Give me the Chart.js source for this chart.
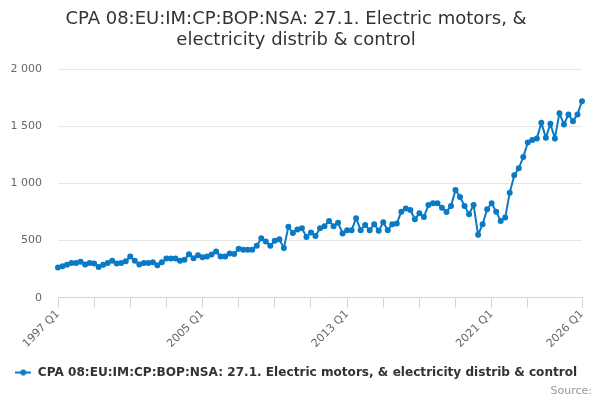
<!DOCTYPE html>
<html>
<head>
<meta charset="utf-8">
<script src="https://cdn.jsdelivr.net/npm/chart.js@4"></script>
<style>
html,body{margin:0;padding:0;background:#fff;}
#wrap{width:600px;height:400px;}
</style>
</head>
<body>
<div id="wrap"><canvas id="c" width="600" height="400"></canvas></div>
<script>
const titleLines = ["CPA 08:EU:IM:CP:BOP:NSA: 27.1. Electric motors, &", "electricity distrib & control"];
const seriesName = "CPA 08:EU:IM:CP:BOP:NSA: 27.1. Electric motors, & electricity distrib & control";
const startYear = 1997;
const endYear = 2026;
const shownLabels = ["1997 Q1", "2005 Q1", "2013 Q1", "2021 Q1", "2026 Q1"];
const yTicks = [0, 500, 1000, 1500, 2000];
const values = [
  265, 276, 288, 303, 303, 314, 291, 303, 300, 268,
  288, 303, 323, 300, 303, 320, 361, 323, 291, 303,
  303, 311, 285, 311, 343, 343, 343, 323, 332, 381,
  346, 372, 355, 361, 378, 404, 361, 361, 388, 383,
  428,
  419, 419, 419, 454, 521, 492, 454, 498, 512, 434,
  620, 567, 596, 608, 532, 570, 541, 608, 626, 672,
  626, 655, 562, 591, 591, 696, 591, 637, 591, 643,
  585, 661, 591, 643, 649, 753, 780, 768, 687, 738,
  707, 811,
  827, 827, 788, 751, 803, 943, 882, 803, 731, 812,
  550, 643, 774, 827, 753, 672, 701, 919, 1071, 1132,
  1231, 1359, 1379, 1394, 1530, 1399, 1522, 1394, 1615, 1516,
  1604, 1545, 1604, 1720
];
const categories = [];
for (let y = startYear; y <= endYear; y++) {
  for (let q = 1; q <= 4; q++) {
    if (categories.length < values.length) categories.push(y + " Q" + q);
  }
}
const lastIdx = categories.length - 1;

const lineColor = "#0a7ac4";
const marker = document.createElement("canvas");
marker.width = 16; marker.height = 8;
(function(){
  const g = marker.getContext("2d");
  g.strokeStyle = lineColor; g.lineWidth = 2;
  g.beginPath(); g.moveTo(0, 4); g.lineTo(16, 4); g.stroke();
  g.fillStyle = lineColor;
  g.beginPath(); g.arc(8, 4, 3, 0, Math.PI * 2); g.fill();
})();

const fmt = v => String(v).replace(/\B(?=(\d{3})+(?!\d))/g, " ");

new Chart(document.getElementById("c"), {
  type: "line",
  data: {
    labels: categories,
    datasets: [{
      label: seriesName,
      data: values,
      borderColor: lineColor,
      backgroundColor: lineColor,
      borderWidth: 2,
      pointRadius: 2,
      pointHoverRadius: 3,
      tension: 0
    }]
  },
  options: {
    responsive: false,
    animation: false,
    devicePixelRatio: 1,
    layout: { padding: { left: 0, right: 8, top: 4, bottom: 6 } },
    plugins: {
      title: {
        display: true,
        text: titleLines,
        color: "#333333",
        font: { family: "DejaVu Sans", size: 18, weight: "normal", lineHeight: 1.17 },
        padding: { top: 5, bottom: 18 }
      },
      subtitle: {
        display: true,
        position: "bottom",
        align: "end",
        text: "Source:",
        color: "#999999",
        font: { family: "DejaVu Sans", size: 11, lineHeight: 0.5 },
        padding: { top: 0, bottom: 0 }
      },
      legend: {
        position: "bottom",
        labels: {
          usePointStyle: true,
          pointStyleWidth: 17,
          color: "#333333",
          font: { family: "DejaVu Sans", size: 12.1, weight: "bold" },
          padding: 2,
          generateLabels: (chart) => Chart.defaults.plugins.legend.labels.generateLabels(chart).map(l => Object.assign(l, { pointStyle: marker }))
        }
      },
      tooltip: { enabled: false }
    },
    scales: {
      x: {
        type: "category",
        offset: false,
        border: { display: true, color: "#ccd6eb", width: 1 },
        grid: {
          display: true,
          drawOnChartArea: false,
          drawTicks: true,
          tickLength: 10,
          tickColor: (ctx) => ((ctx.index % 8 === 0 && ctx.index <= 104) || ctx.index === lastIdx) ? "#ccd6eb" : "rgba(0,0,0,0)"
        },
        afterFit: (s) => { s.paddingLeft = 0; s.paddingRight = 18; s.height += 14; },
        ticks: {
          autoSkip: false,
          minRotation: 45,
          maxRotation: 45,
          color: "#666666",
          font: { family: "DejaVu Sans", size: 11 },
          padding: 0,
          callback: function(val, idx) {
            const l = this.getLabelForValue(val);
            return shownLabels.includes(l) ? l : "";
          }
        }
      },
      y: {
        min: yTicks[0],
        max: yTicks[yTicks.length - 1],
        border: { display: false },
        grid: { color: "#e6e6e6", drawTicks: false },
        afterBuildTicks: (axis) => { axis.ticks = yTicks.map(v => ({ value: v })); },
        afterFit: (s) => { s.width = 58; },
        ticks: {
          color: "#666666",
          font: { family: "DejaVu Sans", size: 11 },
          padding: 16,
          callback: (v) => fmt(v)
        }
      }
    }
  }
});
</script>
</body>
</html>
